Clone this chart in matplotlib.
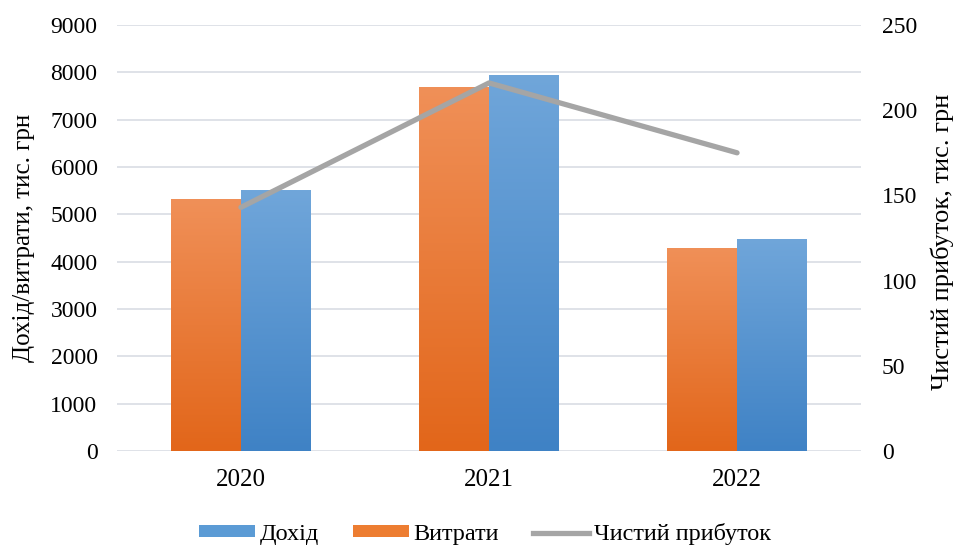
import numpy as np
import matplotlib
matplotlib.use('Agg')
import matplotlib.pyplot as plt
from matplotlib.colors import LinearSegmentedColormap
from matplotlib.lines import Line2D
from matplotlib.patches import Patch

years = ['2020', '2021', '2022']
income = [5510, 7950, 4480]
expenses = [5320, 7700, 4290]
net_profit = [143, 216, 175]

plt.rcParams['font.family'] = ['Liberation Serif', 'DejaVu Serif']

fig = plt.figure(figsize=(9.54, 5.47), dpi=100)
ax = fig.add_axes([0.1226, 0.1755, 0.78, 0.7788])
ax2 = ax.twinx()

x = np.arange(len(years))
w = 0.282

orange_cmap = LinearSegmentedColormap.from_list('o', ['#E2661A', '#F09058'])
blue_cmap = LinearSegmentedColormap.from_list('b', ['#3F82C5', '#70A6DA'])


def gradient_bars(xs, heights, cmap):
    bars = ax.bar(xs, heights, w, color='none', edgecolor='none', zorder=2)
    grad = np.linspace(0, 1, 256).reshape(-1, 1)
    for b in bars:
        x0, y0 = b.get_x(), b.get_y()
        im = ax.imshow(grad, cmap=cmap, origin='lower', aspect='auto',
                       extent=[x0, x0 + b.get_width(), y0, y0 + b.get_height()],
                       zorder=2)
        im.set_clip_path(b)
    return bars


gradient_bars(x - w / 2, expenses, orange_cmap)
gradient_bars(x + w / 2, income, blue_cmap)

ax.set_xlim(-0.5, len(years) - 0.5)
ax.set_ylim(0, 9000)
ax.set_yticks(range(0, 9001, 1000))
ax.set_xticks(x)
ax.set_xticklabels(years)
ax.grid(axis='y', color='#DCDFE6', linewidth=1.3, zorder=0)
ax.set_axisbelow(True)
for a in (ax, ax2):
    for s in ['top', 'left', 'right', 'bottom']:
        a.spines[s].set_visible(False)
ax.tick_params(axis='y', length=0, labelsize=17, pad=14)
ax.tick_params(axis='x', length=0, labelsize=18, pad=13)

ax2.plot(x, net_profit, color='#A5A5A5', linewidth=3.8, solid_capstyle='round', zorder=3)
ax2.set_ylim(0, 250)
ax2.set_yticks(range(0, 251, 50))
ax2.tick_params(length=0, labelsize=17, pad=15)

# axis titles placed by hand to sit like the reference
fig.text(24 / 954, 1 - 238 / 547, 'Дохід/витрати, тис. грн', rotation=90,
         ha='center', va='center', fontsize=18)
fig.text(942 / 954, 1 - 242 / 547, 'Чистий прибуток, тис. грн', rotation=90,
         ha='center', va='center', fontsize=19)

handles = [Patch(facecolor='#5B9BD5'), Patch(facecolor='#ED7D31'),
           Line2D([0], [0], color='#A5A5A5', linewidth=3.8)]
fig.legend(handles, ['Дохід', 'Витрати', 'Чистий прибуток'], loc='center',
           ncol=3, frameon=False, fontsize=17.5, bbox_to_anchor=(485 / 954, 1 - 534 / 547),
           handlelength=2.3, handleheight=0.4, columnspacing=1.4, handletextpad=0.2)

fig.savefig('out.png', dpi=100)
